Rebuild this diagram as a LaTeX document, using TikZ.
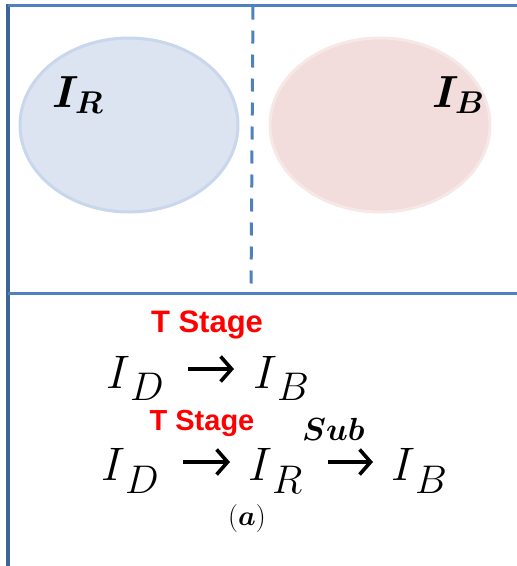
\RequirePackage{fix-cm}
\documentclass[tikz,border=0pt]{standalone}
\usepackage{fontspec}
\usepackage{bm}
\newfontfamily\stagefont{Liberation Sans}
\usetikzlibrary{arrows.meta}
\definecolor{lineblue}{HTML}{4F81BD}
\definecolor{darkblue}{HTML}{3E6498}
\definecolor{setblue}{HTML}{DBE4F0}
\definecolor{setblueedge}{HTML}{C8D7EB}
\definecolor{setpink}{HTML}{F2DCDC}
\definecolor{setpinkedge}{HTML}{F7E8E8}
\newcommand{\term}[3][12pt]{$#2$\kern0pt\raisebox{-#1}{\fontsize{40}{40}\selectfont$#3$}}

\begin{document}
\begin{tikzpicture}[x=1pt,y=-1pt,
  term/.style={anchor=base west,inner sep=0pt,font=\fontsize{47}{50}\selectfont},
  setlabel/.style={anchor=base west,inner sep=0pt,font=\fontsize{45}{50}\selectfont},
  stage/.style={anchor=base,inner sep=0pt,text=red,font=\stagefont\bfseries\fontsize{31}{34}\selectfont},
  conn/.style={line width=3.6pt,-{Straight Barb[length=11pt,width=25pt]}}]
\path[use as bounding box] (0,0) rectangle (517,566);
% frame
\draw[darkblue,line width=3.5pt] (8,566) -- (8,3.5);
\draw[lineblue,line width=3pt] (8,5) -- (517,5);
\draw[lineblue,line width=3pt] (8,293) -- (517,293);
\draw[lineblue,line width=3pt,dash pattern=on 13pt off 11pt] (253,6.5) -- (251,293);
% sets
\draw[setblueedge,fill=setblue,line width=3pt] (129,125) ellipse (109 and 87);
\draw[setpinkedge,fill=setpink,line width=3pt] (380,125) ellipse (110 and 87);
\node[setlabel] (ir) at (52,107) {$\bm{I_R}$};
\node[setlabel] (ib) at (432,107) {$\bm{I_B}$};
% first path
\node[stage] (stage1) at (207,332) {T Stage};
\node[term] (d1) at (106,388) {\term{I}{D}};
\node[term] (b1) at (253,388) {\term{I}{B}};
\draw[conn] ([shift={(82,-19)}]d1.base west) -- ([shift={(-19,-19)}]b1.base west);
% second path
\node[stage,font=\stagefont\bfseries\fontsize{29}{32}\selectfont] (stage2) at (202,430) {T Stage};
\node[term] (d2) at (101,480) {\term[13pt]{I}{D}};
\node[term] (r2) at (248,480) {\term[13pt]{I}{R}};
\node[term] (b2) at (391,480) {\term[13pt]{I}{B}};
\draw[conn] ([shift={(82,-18)}]d2.base west) -- ([shift={(-18,-18)}]r2.base west);
\draw[conn] ([shift={(80,-18)}]r2.base west) -- ([shift={(-18,-18)}]b2.base west);
\node[anchor=base west,inner sep=0pt,font=\fontsize{32}{34}\selectfont] (sub) at (302,440) {$\bm{Sub}$};
\node[anchor=base,inner sep=0pt,font=\fontsize{28}{30}\selectfont] (cap) at (247,525) {$(\bm{a})$};
\end{tikzpicture}
\end{document}
